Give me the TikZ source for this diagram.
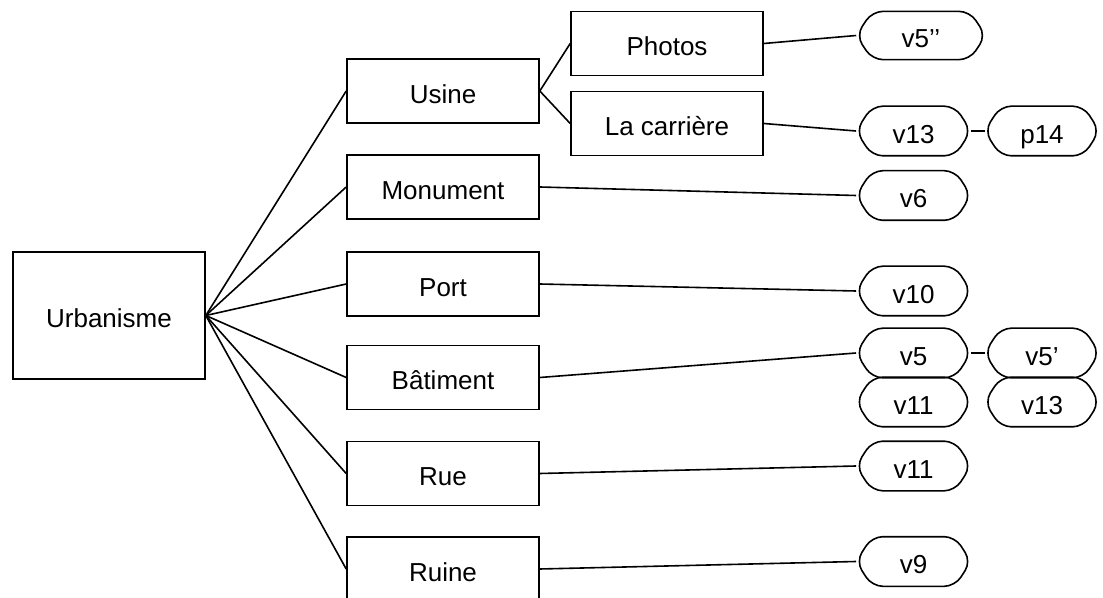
\documentclass[tikz,border=0pt]{standalone}
\usepackage{fontspec}
\setmainfont{Liberation Sans}
\tikzset{
  theme/.style={draw, minimum width=144pt, minimum height=48pt, inner sep=0pt,
    text height=18.5pt, text depth=0pt},
  valeur/.style={minimum width=85pt, minimum height=36pt, inner sep=0pt,
    text height=18.5pt, text depth=0pt},
}
\begin{document}
\begin{tikzpicture}[x=0.75pt,y=-0.75pt,line width=1.2pt,font=\fontsize{19.5}{23}\selectfont]
\useasboundingbox (0,0) rectangle (1103,598);
\clip (0,0) rectangle (1103,598);
\node[theme, minimum height=95pt] (urb) at (109,315.5) {Urbanisme};
\node[theme] (usine) at (443,91) {Usine};
\node[theme] (monu) at (443,187) {Monument};
\node[theme] (port) at (443,284) {Port};
\node[theme] (bati) at (443,377.5) {Bâtiment};
\node[theme] (rue) at (443,473.5) {Rue};
\node[theme] (ruine) at (443,569) {Ruine};
\node[theme] (photos) at (667,43.5) {Photos};
\node[theme] (carr) at (667,123.5) {La carrière};
% valeurs
\node[valeur, minimum width=96pt, minimum height=35pt] (vcinqb) at (921,35.5) {v5’’};
\node[valeur] (vtreize) at (913.5,131) {v13};
\node[valeur] (ppq) at (1042,131) {p14};
\node[valeur] (vsix) at (913.5,195.5) {v6};
\node[valeur] (vdix) at (913.5,291) {v10};
\node[valeur] (vcinq) at (913.5,353) {v5};
\node[valeur] (vcinqa) at (1042,353) {v5’};
\node[valeur] (vonzea) at (913.5,402) {v11};
\node[valeur] (vtreizeb) at (1042,402) {v13};
\node[valeur] (vonze) at (913.5,466) {v11};
\node[valeur] (vneuf) at (913.5,561.5) {v9};
\foreach \n in {vcinqb,vtreize,ppq,vsix,vdix,vcinq,vcinqa,vonzea,vtreizeb,vonze,vneuf}
  \draw[rounded corners=8pt] (\n.west) -- ([xshift=12pt]\n.north west)
    -- ([xshift=-12pt]\n.north east) -- (\n.east)
    -- ([xshift=-12pt]\n.south east) -- ([xshift=12pt]\n.south west) -- cycle;
% liens
\foreach \t in {usine,monu,port,bati,rue,ruine}
  \draw (urb.east) -- (\t.west);
\draw (usine.east) -- (photos.west);
\draw (usine.east) -- (carr.west);
\draw (photos.east) -- (vcinqb.west);
\draw (carr.east) -- (vtreize.west);
\draw (vtreize.east) -- (ppq.west);
\draw (monu.east) -- (vsix.west);
\draw (port.east) -- (vdix.west);
\draw (bati.east) -- (vcinq.west);
\draw (vcinq.east) -- (vcinqa.west);
\draw (rue.east) -- (vonze.west);
\draw (ruine.east) -- (vneuf.west);
\end{tikzpicture}
\end{document}
